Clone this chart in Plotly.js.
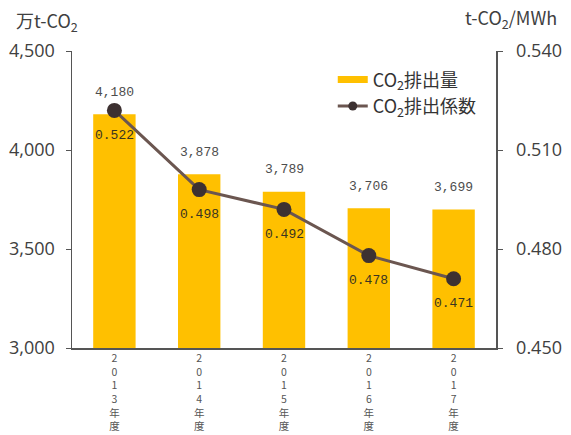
<!DOCTYPE html>
<html><head><meta charset="utf-8">
<script src="https://cdn.plot.ly/plotly-3.0.1.min.js"></script>
<style>body{margin:0;background:#fff}#c{width:571px;height:435px}</style>
</head><body><div id="c"></div>
<script>
const years = ["2013年度","2014年度","2015年度","2016年度","2017年度"];
const emissions = [4180, 3878, 3789, 3706, 3699];
const factors = [0.522, 0.498, 0.492, 0.478, 0.471];
const leftTicks = [3000, 3500, 4000, 4500];
const rightTicks = [0.450, 0.480, 0.510, 0.540];

const vert = s => s.split("").join("<br>");
const fmt = v => v.toLocaleString("en-US");

const barTrace = {type:"bar", x:years, y:emissions, marker:{color:"#FFC000"}, width:0.5,
  showlegend:false, hoverinfo:"none", yaxis:"y"};
const legBar = {type:"scatter", mode:"lines", x:[null], y:[null], name:"CO<sub>2</sub>排出量",
  line:{color:"#FFC000", width:7}, yaxis:"y"};
const lineTrace = {type:"scatter", mode:"lines+markers", x:years, y:factors, yaxis:"y2",
  showlegend:false, line:{color:"#6b5650", width:3},
  marker:{color:"#3d3131", size:15}, hoverinfo:"none"};
const legLine = {type:"scatter", mode:"lines+markers", x:[null], y:[null], yaxis:"y2",
  name:"CO<sub>2</sub>排出係数", line:{color:"#6b5650", width:3},
  marker:{color:"#3d3131", size:9}};

const ann = [];
years.forEach((c,i)=>{
  ann.push({x:c, y:emissions[i], xref:"x", yref:"y", text:fmt(emissions[i]), showarrow:false,
    yanchor:"middle", yshift:22, font:{family:"Liberation Mono", size:13, color:"#4d4d4d"}});
  ann.push({x:c, y:factors[i], xref:"x", yref:"y2", text:factors[i].toFixed(3), showarrow:false,
    yanchor:"middle", yshift:-25, font:{family:"Liberation Mono", size:13, color:"#3a3520"}});
});
ann.push({xref:"paper", yref:"paper", x:-0.137, y:1.1, xanchor:"left", yanchor:"middle",
  text:"万t-CO<sub>2</sub>", showarrow:false, font:{family:"Noto Sans CJK JP", size:18, color:"#404040"}});
ann.push({xref:"paper", yref:"paper", x:1.148, y:1.11, xanchor:"right", yanchor:"middle",
  text:"t-CO<sub>2</sub>/MWh", showarrow:false, font:{family:"Noto Sans CJK JP", size:18, color:"#404040"}});

const tickFont = {family:"Open Sans", size:18, color:"#404040"};
const layout = {
  width:571, height:435, margin:{l:72, r:75, t:51, b:87},
  paper_bgcolor:"#fff", plot_bgcolor:"#fff",
  xaxis:{type:"category", tickvals:years, ticktext:years.map(vert), showline:true,
    linecolor:"#555", linewidth:1.5, ticks:"", showgrid:false,
    tickfont:{family:"Noto Sans CJK JP", size:10.5, color:"#555555"}},
  yaxis:{range:[3000,4500], tickvals:leftTicks, ticktext:leftTicks.map(fmt), showline:true,
    linecolor:"#555", linewidth:1.5, ticks:"outside", ticklen:5, tickcolor:"#555",
    showgrid:false, zeroline:false, tickfont:tickFont, ticklabelstandoff:7},
  yaxis2:{range:[0.450,0.540], overlaying:"y", side:"right", tickvals:rightTicks,
    ticktext:rightTicks.map(v=>v.toFixed(3)), showline:true, linecolor:"#555", linewidth:1.5,
    ticks:"outside", ticklen:5, tickcolor:"#555", showgrid:false, zeroline:false,
    tickfont:tickFont, ticklabelstandoff:10},
  legend:{x:0.615, y:0.965, xanchor:"left", yanchor:"top", bgcolor:"rgba(0,0,0,0)",
    font:{family:"Noto Sans CJK JP", size:18, color:"#333"}, tracegroupgap:0},
  annotations:ann, showlegend:true
};
Plotly.newPlot("c", [barTrace, legBar, lineTrace, legLine], layout, {displayModeBar:false, staticPlot:true});
</script></body></html>
